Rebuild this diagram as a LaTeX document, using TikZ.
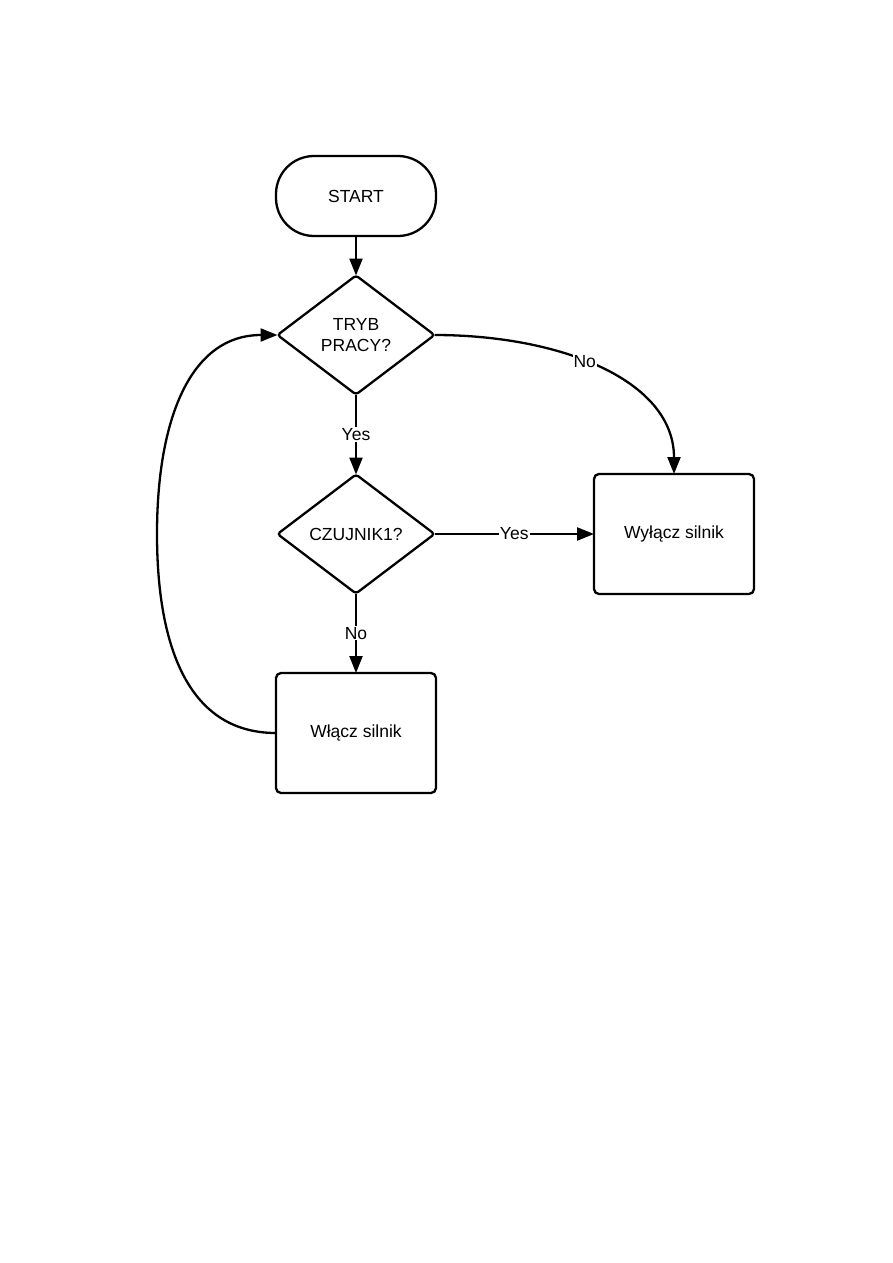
\documentclass[tikz,border=0pt]{standalone}
\usepackage{fontspec}
\setmainfont{Liberation Sans}
\usetikzlibrary{shapes.geometric,arrows.meta}
\begin{document}
\begin{tikzpicture}[x=1pt,y=-1pt,
  every node/.style={font=\fontsize{17.5}{20.5}\selectfont},
  base/.style={draw=black,line width=2.3pt,inner sep=0pt,outer sep=0pt,align=center},
  term/.style={base,rectangle,rounded corners=38pt,minimum width=160pt,minimum height=80pt},
  proc/.style={base,rectangle,rounded corners=5pt,minimum width=160pt,minimum height=120pt},
  dec/.style={base,diamond,rounded corners=3pt,minimum width=157pt,minimum height=119pt},
  conn/.style={line width=2.3pt,-{Triangle[length=17pt,width=13pt]}},
  lbl/.style={fill=white,inner sep=1pt}]
\useasboundingbox (0,0) rectangle (893,1263);
\node[term] (start) at (356,196) {START};
\node[dec] (tryb) at (356,335) {TRYB\\PRACY?};
\node[dec] (czuj) at (356,534) {CZUJNIK1?};
\node[proc] (wyl) at (674,534) {Wyłącz silnik};
\node[proc] (wl) at (356,733) {Włącz silnik};
\draw[conn] (start.south) -- (tryb.north);
\draw[conn] (tryb.south) -- node[lbl,pos=0.5] {Yes} (czuj.north);
\draw[conn] (czuj.south) -- node[lbl,pos=0.5] {No} (wl.north);
\draw[conn] (czuj.east) -- node[lbl,pos=0.5] {Yes} (wyl.west);
\draw[conn] (tryb.east) .. controls (560,335) and (674,380) .. node[lbl,pos=0.44] {No} (wyl.north);
\draw[conn] (wl.west) .. controls (185,733) and (157,640) .. (157,534) .. controls (157,420) and (190,335) .. (tryb.west);
\end{tikzpicture}
\end{document}
